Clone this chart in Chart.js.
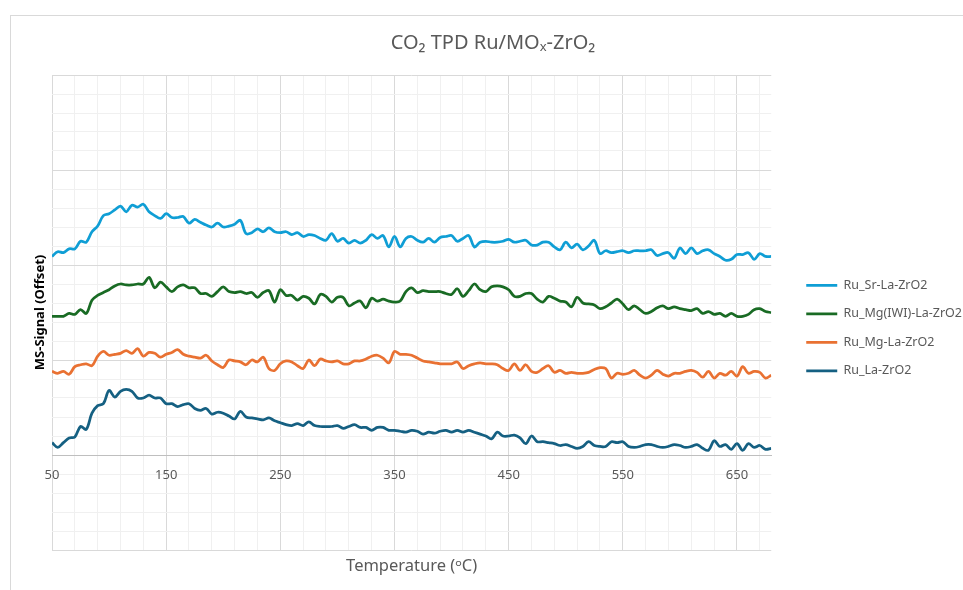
<!DOCTYPE html>
<html>
<head>
  <meta charset="UTF-8">
  <script src="https://cdn.jsdelivr.net/npm/chart.js@4.4.1/dist/chart.umd.min.js"></script>
  <style>
    html, body { margin: 0; padding: 0; overflow: hidden; background: #fff; }
    #frame { position: absolute; left: 10px; top: 15px; width: 1200px; height: 800px; border: 1px solid #d9d9d9; }
    #wrap { position: absolute; left: 0; top: 0; width: 986px; height: 590px; }
  </style>
</head>
<body>
  <div id="frame"></div>
  <div id="wrap"><canvas id="myChart"></canvas></div>
  <script>
    // temperature (oC)
    const temps = [50, 55, 60, 65, 70, 75, 80, 85, 90, 95, 100, 105, 110, 115, 120, 125, 130, 135, 140, 145,
      150, 155, 160, 165, 170, 175, 180, 185, 190, 195, 200, 205, 210, 215, 220, 225, 230, 235, 240, 245,
      250, 255, 260, 265, 270, 275, 280, 285, 290, 295, 300, 305, 310, 315, 320, 325, 330, 335, 340, 345,
      350, 355, 360, 365, 370, 375, 380, 385, 390, 395, 400, 405, 410, 415, 420, 425, 430, 435, 440, 445,
      450, 455, 460, 465, 470, 475, 480, 485, 490, 495, 500, 505, 510, 515, 520, 525, 530, 535, 540, 545,
      550, 555, 560, 565, 570, 575, 580, 585, 590, 595, 600, 605, 610, 615, 620, 625, 630, 635, 640, 645,
      650, 655, 660, 665, 670, 675, 680];

    const srLa = [2.09, 2.14, 2.13, 2.17, 2.17, 2.25, 2.24, 2.35, 2.41, 2.52, 2.54, 2.58, 2.62, 2.56, 2.63, 2.61, 2.64, 2.56, 2.52, 2.49, 2.54, 2.50,
      2.50, 2.51, 2.44, 2.48, 2.45, 2.42, 2.40, 2.44, 2.40, 2.41, 2.43, 2.47, 2.33, 2.34, 2.38, 2.35, 2.39, 2.35, 2.34, 2.35, 2.32,
      2.34, 2.30, 2.32, 2.31, 2.28, 2.26, 2.33, 2.25, 2.28, 2.23, 2.26, 2.23, 2.26, 2.32, 2.28, 2.31, 2.19, 2.30, 2.19, 2.28, 2.30, 2.26,
      2.24, 2.28, 2.24, 2.29, 2.30, 2.31, 2.25, 2.28, 2.31, 2.19, 2.24, 2.25, 2.24, 2.24, 2.25, 2.27, 2.24, 2.25, 2.26, 2.21, 2.21,
      2.24, 2.24, 2.19, 2.16, 2.24, 2.18, 2.22, 2.16, 2.20, 2.26, 2.12, 2.15, 2.13, 2.14, 2.15, 2.13, 2.15, 2.15, 2.15, 2.16, 2.10,
      2.12, 2.13, 2.07, 2.18, 2.12, 2.18, 2.12, 2.15, 2.16, 2.12, 2.09, 2.05, 2.06, 2.11, 2.11, 2.13, 2.06, 2.12, 2.09, 2.09];

    const mgIwiLa = [1.46, 1.46, 1.46, 1.49, 1.48, 1.53, 1.49, 1.63, 1.68, 1.71, 1.74, 1.78, 1.80, 1.79, 1.79, 1.80, 1.80, 1.87, 1.76, 1.82, 1.77, 1.72,
      1.77, 1.79, 1.76, 1.76, 1.70, 1.70, 1.67, 1.72, 1.77, 1.72, 1.71, 1.72, 1.70, 1.71, 1.66, 1.71, 1.73, 1.61, 1.74, 1.68, 1.68,
      1.63, 1.67, 1.65, 1.59, 1.69, 1.67, 1.61, 1.66, 1.66, 1.57, 1.60, 1.62, 1.55, 1.65, 1.62, 1.64, 1.62, 1.61, 1.62, 1.72, 1.76, 1.71,
      1.73, 1.72, 1.72, 1.72, 1.70, 1.69, 1.75, 1.67, 1.73, 1.80, 1.74, 1.72, 1.77, 1.78, 1.77, 1.74, 1.67, 1.67, 1.70, 1.70, 1.64,
      1.61, 1.67, 1.65, 1.62, 1.61, 1.56, 1.66, 1.60, 1.59, 1.58, 1.54, 1.56, 1.60, 1.64, 1.59, 1.53, 1.57, 1.53, 1.49, 1.51, 1.55,
      1.57, 1.54, 1.56, 1.54, 1.53, 1.52, 1.54, 1.49, 1.51, 1.48, 1.49, 1.46, 1.49, 1.46, 1.46, 1.48, 1.53, 1.54, 1.51, 1.50];

    const mgLa = [0.88, 0.86, 0.88, 0.85, 0.93, 0.95, 0.96, 0.94, 1.04, 1.09, 1.05, 1.06, 1.07, 1.10, 1.07, 1.12, 1.04, 1.08, 1.07, 1.03, 1.06, 1.08,
      1.11, 1.06, 1.04, 1.03, 1.02, 1.05, 0.99, 0.95, 0.92, 1.00, 0.99, 0.98, 0.95, 1.00, 0.98, 1.03, 0.91, 0.89, 0.96, 0.99, 0.98,
      0.94, 0.91, 1.00, 0.94, 1.01, 0.99, 0.98, 0.99, 0.96, 0.96, 0.99, 0.99, 1.01, 1.04, 1.05, 1.02, 0.97, 1.09, 1.06, 1.06, 1.05, 1.02,
      0.99, 0.98, 0.97, 0.96, 0.96, 0.96, 0.98, 0.91, 0.94, 0.96, 0.97, 0.96, 0.96, 0.95, 0.91, 0.89, 0.96, 0.89, 0.95, 0.88, 0.87,
      0.91, 0.94, 0.87, 0.89, 0.86, 0.87, 0.86, 0.86, 0.87, 0.90, 0.92, 0.91, 0.81, 0.86, 0.85, 0.86, 0.89, 0.84, 0.81, 0.84, 0.89,
      0.85, 0.83, 0.86, 0.86, 0.88, 0.89, 0.87, 0.82, 0.88, 0.81, 0.86, 0.84, 0.88, 0.83, 0.93, 0.86, 0.88, 0.87, 0.81, 0.84];

    const la = [0.13, 0.08, 0.13, 0.18, 0.19, 0.30, 0.27, 0.44, 0.52, 0.54, 0.68, 0.61, 0.67, 0.69, 0.67, 0.60, 0.60, 0.63, 0.60, 0.60, 0.54, 0.54,
      0.51, 0.53, 0.54, 0.49, 0.47, 0.49, 0.43, 0.45, 0.44, 0.41, 0.38, 0.46, 0.40, 0.39, 0.38, 0.37, 0.39, 0.36, 0.34, 0.32, 0.31,
      0.33, 0.31, 0.35, 0.31, 0.30, 0.30, 0.30, 0.31, 0.28, 0.30, 0.32, 0.29, 0.29, 0.26, 0.29, 0.29, 0.26, 0.26, 0.25, 0.24, 0.26, 0.25,
      0.22, 0.24, 0.23, 0.25, 0.26, 0.24, 0.26, 0.24, 0.26, 0.24, 0.22, 0.20, 0.17, 0.24, 0.20, 0.20, 0.21, 0.18, 0.12, 0.20, 0.14,
      0.14, 0.13, 0.12, 0.10, 0.11, 0.09, 0.07, 0.09, 0.14, 0.10, 0.09, 0.09, 0.14, 0.13, 0.14, 0.09, 0.08, 0.09, 0.11, 0.11, 0.09,
      0.08, 0.09, 0.11, 0.10, 0.08, 0.09, 0.11, 0.07, 0.05, 0.15, 0.09, 0.11, 0.06, 0.12, 0.05, 0.12, 0.08, 0.10, 0.06, 0.07];

    const seriesNames = ['Ru_Sr-La-ZrO2', 'Ru_Mg(IWI)-La-ZrO2', 'Ru_Mg-La-ZrO2', 'Ru_La-ZrO2'];
    const seriesColors = ['#0F9ED5', '#196B24', '#E97132', '#156082'];
    const tempTicks = [50, 150, 250, 350, 450, 550, 650];

    const textGrey = '#595959';
    Chart.defaults.font.family = "'Noto Sans', sans-serif";
    Chart.defaults.color = textGrey;

    const allSeries = [srLa, mgIwiLa, mgLa, la];
    const datasets = allSeries.map((vals, i) => ({
      label: seriesNames[i],
      data: vals.map((v, j) => ({ x: temps[j], y: v })),
      borderColor: seriesColors[i],
      backgroundColor: seriesColors[i],
      borderWidth: 2.75,
      pointRadius: 0,
      tension: 0.35
    }));

    let ctx = document.getElementById('myChart').getContext('2d');
    let chart = new Chart(ctx, {
      type: 'line',
      data: { datasets: datasets },
      options: {
        responsive: true,
        maintainAspectRatio: false,
        animation: false,
        layout: { padding: { left: 14, right: 14 } },
        plugins: {
          title: {
            display: true,
            text: 'CO\u2082 TPD Ru/MO\u2093-ZrO\u2082',
            color: textGrey,
            font: { size: 20, weight: 'normal' },
            padding: { top: 31, bottom: 20 }
          },
          legend: {
            position: 'right',
            maxWidth: 300,
            title: { display: true, text: '', font: { size: 10 }, padding: { top: 0, bottom: 54 } },
            labels: {
              boxWidth: 31,
              boxHeight: 0,
              padding: 16,
              color: textGrey,
              font: { size: 12.5 }
            }
          },
          tooltip: { enabled: false }
        },
        scales: {
          x: {
            type: 'linear',
            position: { y: 0 },
            min: 50,
            max: 680,
            afterBuildTicks: function (scale) {
              const t = [];
              for (let v = 50; v <= 670; v += 20) t.push({ value: v });
              scale.ticks = t;
            },
            afterFit: function (scale) { scale.height = 0; },
            ticks: {
              autoSkip: false,
              maxRotation: 0,
              padding: 12,
              color: textGrey,
              font: { size: 13 },
              callback: function (v) { return tempTicks.includes(v) ? String(v) : ''; }
            },
            grid: {
              drawTicks: false,
              color: function (c) { return tempTicks.includes(c.tick.value) ? '#d9d9d9' : '#f0f0f0'; }
            },
            border: { display: true, color: '#bfbfbf', width: 1 }
          },
          x2: {
            type: 'linear',
            position: 'bottom',
            min: 50,
            max: 680,
            ticks: { display: false },
            grid: { display: false },
            border: { display: false },
            afterFit: function (scale) { scale.height = 40; },
            title: {
              display: true,
              text: 'Temperature (\u1d52C)',
              color: textGrey,
              font: { size: 16.5 },
              padding: { top: 0, bottom: 14 }
            }
          },
          y: {
            type: 'linear',
            min: -1,
            max: 4,
            ticks: { display: false, stepSize: 0.2 },
            grid: {
              drawTicks: false,
              color: function (c) {
                const v = c.tick.value;
                return Math.abs(v - Math.round(v)) < 1e-6 ? '#d9d9d9' : '#f0f0f0';
              }
            },
            border: { display: false },
            afterFit: function (scale) { scale.width = 38; },
            title: {
              display: true,
              text: 'MS-Signal (Offset)',
              color: '#000',
              font: { size: 13, weight: 'bold' },
              padding: { top: 18, bottom: 0 }
            }
          },
          y2: {
            type: 'linear',
            position: 'right',
            min: -1,
            max: 4,
            ticks: { display: false },
            grid: { display: false },
            border: { display: false },
            afterFit: function (scale) { scale.width = 19; }
          }
        }
      }
    });
  </script>
</body>
</html>
